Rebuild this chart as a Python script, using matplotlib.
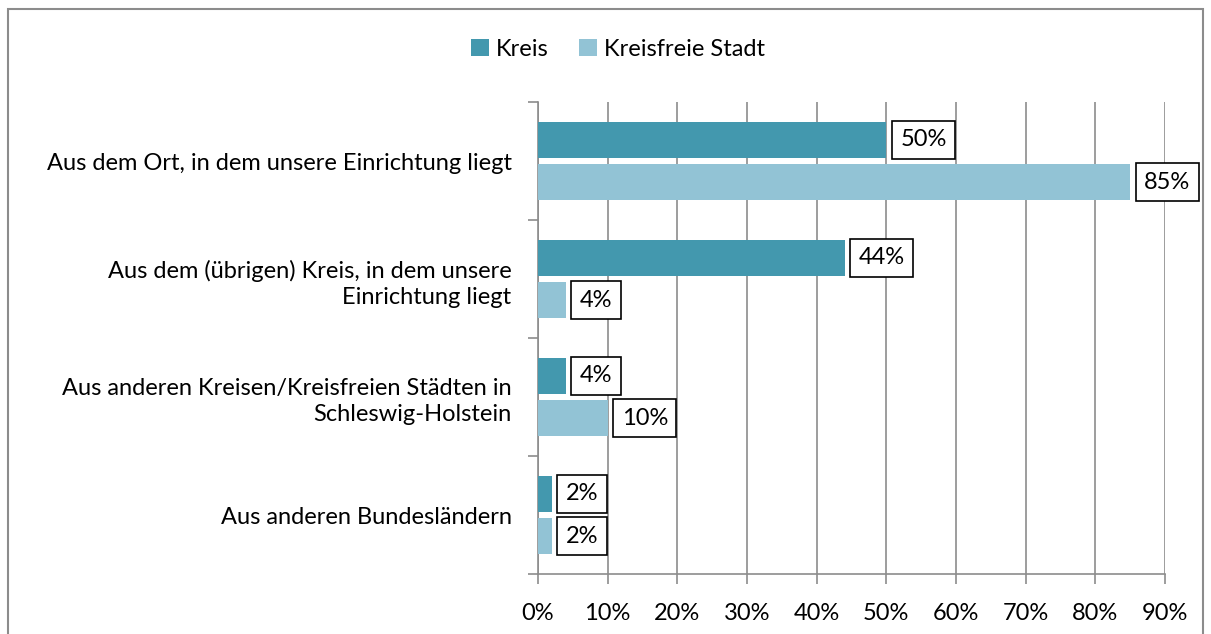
import numpy as np
import matplotlib.pyplot as plt
from matplotlib.patches import Rectangle

# data
categories = [
    "Aus dem Ort, in dem unsere Einrichtung liegt",
    "Aus dem (übrigen) Kreis, in dem unsere\nEinrichtung liegt",
    "Aus anderen Kreisen/Kreisfreien Städten in\nSchleswig-Holstein",
    "Aus anderen Bundesländern",
]
kreis = [50, 44, 4, 2]
kreisfreie_stadt = [85, 4, 10, 2]
series_names = ["Kreis", "Kreisfreie Stadt"]
xticks = [0, 10, 20, 30, 40, 50, 60, 70, 80, 90]

col_kreis = "#4398AE"
col_stadt = "#92C3D5"
grid_col = "#8C8C8C"

plt.rcParams['font.family'] = ['Lato', 'DejaVu Sans']
fs = 17

fig = plt.figure(figsize=(12.11, 6.34), dpi=100)
W, H = 1211, 634
ax = fig.add_axes([538 / W, 1 - 574 / H, (1165 - 538) / W, (574 - 102) / H])

# outer frame of the chart
fig.patches.append(Rectangle((8 / W, -0.1), (1203 - 8) / W, 1.1 - 9 / H,
                             transform=fig.transFigure, fill=False,
                             ec="#8C8C8C", lw=1.5))

centers = np.arange(len(categories)) + 0.5
off = 0.182
h = 0.305
ax.barh(centers - off, kreis, height=h, color=col_kreis, zorder=3, label=series_names[0])
ax.barh(centers + off, kreisfreie_stadt, height=h, color=col_stadt, zorder=3, label=series_names[1])

for vals, dy in [(kreis, -off), (kreisfreie_stadt, off)]:
    for c, v in zip(centers, vals):
        ax.annotate(f"{v}%", xy=(v, c + dy), xytext=(10, 0), textcoords="offset points",
                    ha="left", va="center", fontsize=fs, zorder=5,
                    bbox=dict(boxstyle="square,pad=0.36", fc="white", ec="black", lw=1.2))

ax.set_xlim(0, 90)
ax.set_ylim(len(categories), 0)
ax.set_xticks(xticks)
ax.set_xticklabels([f"{t}%" for t in xticks], fontsize=fs)
ax.set_yticks(np.arange(len(categories) + 1))
ax.set_yticklabels([])
ax.set_yticks(centers, minor=True)
ax.set_yticklabels(categories, minor=True, fontsize=fs, ha="right", linespacing=1.3)
ax.tick_params(axis="y", which="minor", length=0, pad=19)
ax.tick_params(axis="y", which="major", length=7, width=1.2, color=grid_col)
ax.tick_params(axis="x", length=7, width=1.2, color=grid_col, pad=14)

ax.grid(axis="x", color=grid_col, lw=1.2, zorder=0)
ax.set_axisbelow(True)
for s in ["top", "right"]:
    ax.spines[s].set_visible(False)
for s in ["left", "bottom"]:
    ax.spines[s].set_color(grid_col)
    ax.spines[s].set_linewidth(1.2)

fig.legend(loc="center", bbox_to_anchor=(618 / W, 1 - 49 / H), ncol=2, frameon=False,
           fontsize=fs, handlelength=0.75, handleheight=0.75, handletextpad=0.3,
           columnspacing=1.3)

fig.savefig("out.png", dpi=100)
